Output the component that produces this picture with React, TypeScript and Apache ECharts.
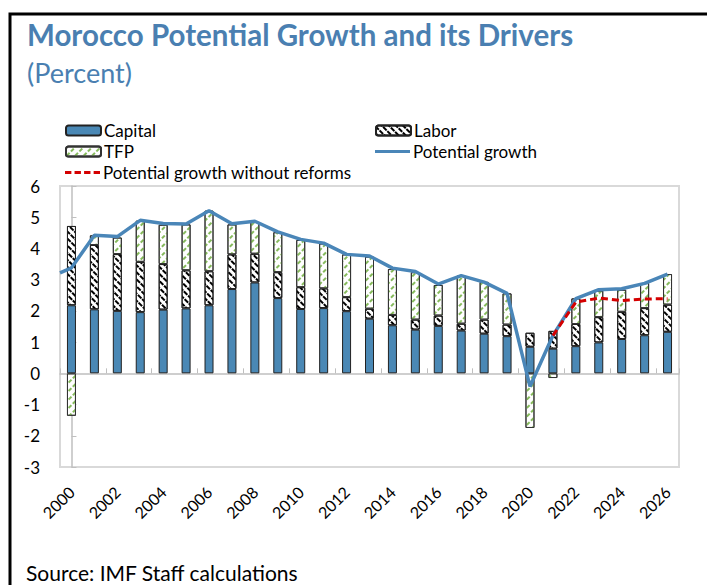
import React, { useEffect, useRef } from "react";
import * as echarts from "echarts";

const years = ["2000","2001","2002","2003","2004","2005","2006","2007","2008","2009","2010","2011","2012","2013","2014","2015","2016","2017","2018","2019","2020","2021","2022","2023","2024","2025","2026"];
const capital = [2.18,2.05,2.00,1.96,2.04,2.08,2.18,2.70,2.91,2.41,2.06,2.09,1.99,1.75,1.54,1.40,1.52,1.37,1.27,1.19,0.85,0.79,0.87,0.99,1.10,1.22,1.33];
const labor = [2.54,2.06,1.82,1.61,1.46,1.22,1.09,1.11,0.92,0.83,0.70,0.63,0.45,0.32,0.33,0.32,0.33,0.22,0.45,0.37,0.45,0.57,0.71,0.81,0.87,0.87,0.87];
const tfp = [-1.36,0.31,0.53,1.32,1.26,1.47,1.94,0.96,1.02,1.28,1.51,1.44,1.37,1.67,1.47,1.52,0.98,1.54,1.21,1.00,-1.75,-0.15,0.82,0.85,0.71,0.80,0.98];
// potential growth; first point is the value at the left edge of the plot (x = -0.5)
const potentialX = [-0.5,0,1,2,3,4,5,6,7,8,9,10,11,12,13,14,15,16,17,18,19,20,21,22,23,24,25,26];
const potential = [3.22,3.38,4.42,4.38,4.90,4.80,4.78,5.21,4.79,4.87,4.53,4.29,4.17,3.81,3.76,3.37,3.26,2.86,3.13,2.92,2.56,-0.42,1.21,2.39,2.68,2.71,2.88,3.18];
const noReformX = [21,22,23,24,25,26];
const noReform = [1.21,2.28,2.41,2.33,2.38,2.39];

const FONT = "Lato, 'Noto Sans', sans-serif";
const BLUE = "#4a86b8";
const RED = "#d40000";

export default function App() {
  const ref = useRef<HTMLDivElement>(null);
  useEffect(() => {
    if (!ref.current) return;
    const chart = echarts.init(ref.current, null, { renderer: "svg" });
    const legText = { fontSize: 17, color: "#000", fontFamily: FONT, padding: [0, 0, 0, -2] };
    const legCommon = { itemWidth: 35, itemHeight: 10, padding: 0, itemGap: 0, textStyle: legText, selectedMode: false };
    chart.setOption({
      animation: false,
      textStyle: { fontFamily: FONT },
      title: [
        { text: "Morocco Potential Growth and its Drivers", left: 27, top: 19, padding: 0, textStyle: { fontSize: 29.5, fontWeight: "bold", color: "#4a7fb1", fontFamily: FONT } },
        { text: "(Percent)", left: 27, top: 59, padding: 0, textStyle: { fontSize: 27, fontWeight: "normal", color: "#4a7fb1", fontFamily: FONT } },
        { text: "Source: IMF Staff calculations", left: 26, top: 562, padding: 0, textStyle: { fontSize: 21, fontWeight: "normal", color: "#000", fontFamily: FONT } },
      ],
      graphic: [
        { type: "rect", shape: { x: 10, y: 14, width: 720, height: 620 }, style: { fill: "none", stroke: "#000", lineWidth: 3 }, silent: true },
      ],
      legend: [
        { ...legCommon, data: ["Capital"], left: 65, top: 122 },
        { ...legCommon, data: ["Labor"], left: 375, top: 122 },
        { ...legCommon, data: ["TFP"], left: 65, top: 143 },
        { ...legCommon, data: ["Potential growth"], left: 375, top: 143, icon: "path://M0,0H35V3H0Z" },
        { ...legCommon, data: ["Potential growth without reforms"], left: 65, top: 164, icon: "path://M0,0H6V3H0Z M9,0H15V3H9Z M18,0H24V3H18Z M27,0H33V3H27Z" },
      ],
      grid: { left: 60, top: 186, width: 619, height: 281, show: true, borderColor: "#d9d9d9", borderWidth: 2, containLabel: false },
      xAxis: [
        {
          type: "category", data: years, position: "bottom",
          axisLine: { onZero: true, lineStyle: { color: "#bfbfbf", width: 1.5 } },
          axisTick: { show: true, inside: true, interval: 1, length: 5, lineStyle: { color: "#bfbfbf" } },
          axisLabel: { show: false },
        },
        {
          type: "category", data: years, position: "bottom",
          axisLine: { show: false, onZero: false },
          axisTick: { show: false },
          axisLabel: { show: true, interval: 1, rotate: 45, fontSize: 16, color: "#000", margin: 22, fontFamily: FONT },
        },
        { type: "value", min: -0.5, max: 26.5, show: false, position: "top" },
      ],
      yAxis: {
        type: "value", min: -3, max: 6, interval: 1,
        axisLine: { show: true, lineStyle: { color: "#bfbfbf", width: 1.5 } },
        axisTick: { show: true, inside: true, length: 5, lineStyle: { color: "#bfbfbf" } },
        splitLine: { show: false },
        axisLabel: { fontSize: 17, color: "#000", margin: 20, fontFamily: FONT },
      },
      series: [
        {
          name: "Capital", type: "bar", stack: "a", xAxisIndex: 0, data: capital, barWidth: 9,
          itemStyle: { color: "#4a88b5", borderColor: "#222", borderWidth: 1 },
        },
        {
          name: "Labor", type: "bar", stack: "a", xAxisIndex: 0, data: labor, barWidth: 9,
          itemStyle: {
            color: "#fff", borderColor: "#222", borderWidth: 1,
            decal: { symbol: "rect", symbolSize: 1, color: "#000", backgroundColor: "#fff", dashArrayX: [[5, 1]], dashArrayY: [1.6, 2.8], rotation: Math.PI / 4 },
          },
        },
        {
          name: "TFP", type: "bar", stack: "a", xAxisIndex: 0, data: tfp, barWidth: 9,
          itemStyle: {
            color: "#fff", borderColor: "#333", borderWidth: 1,
            decal: { symbol: "rect", symbolSize: 1, color: "#86ba5c", backgroundColor: "#fff", dashArrayX: [[4, 2]], dashArrayY: [1.8, 4], rotation: -Math.PI / 4 },
          },
        },
        {
          name: "Potential growth", type: "line", xAxisIndex: 2, z: 5,
          data: potentialX.map((x, i) => [x, potential[i]]),
          symbol: "none", lineStyle: { color: BLUE, width: 3.5 }, itemStyle: { color: BLUE },
        },
        {
          name: "Potential growth without reforms", type: "line", xAxisIndex: 2, z: 6,
          data: noReformX.map((x, i) => [x, noReform[i]]),
          symbol: "none", lineStyle: { color: RED, width: 3, type: [7, 4] }, itemStyle: { color: RED },
        },
      ],
    });
    return () => chart.dispose();
  }, []);
  return <div ref={ref} style={{ position: "fixed", left: 0, top: 0, width: 707, height: 585, background: "#fff" }} />;
}
